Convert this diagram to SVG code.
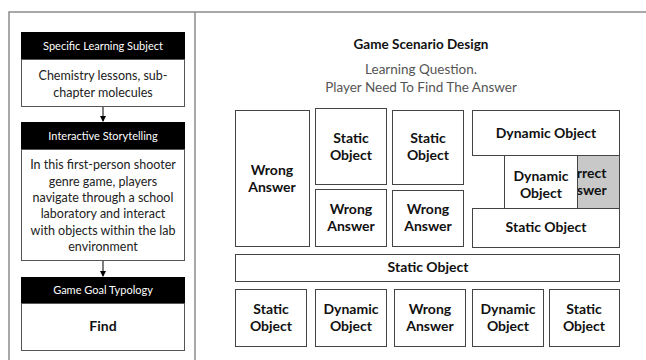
<svg xmlns="http://www.w3.org/2000/svg" width="646" height="360" viewBox="0 0 646 360">
  <defs>
    <marker id="arrow" markerWidth="6" markerHeight="6" refX="5" refY="3" orient="auto" markerUnits="userSpaceOnUse">
      <path d="M0,0 L6,3 L0,6 Z" fill="#000"/>
    </marker>
    <!-- only the exposed strip of the answer cell is visible -->
    <clipPath id="answer-visible">
      <rect x="578" y="155" width="42" height="54"/>
    </clipPath>
  </defs>
  <style>
    text { font-family: Lato, "Liberation Sans", sans-serif; }
    .frame { stroke: #8c8c8c; stroke-width: 1.5; fill: none; }
    .hdr { fill: #000; }
    .hdrtxt { fill: #fff; font-size: 11px; text-anchor: middle; }
    .body { fill: #fff; stroke: #555; stroke-width: 1; }
    .bodytxt { fill: #222; font-size: 12.5px; text-anchor: middle; }
    .box { fill: #fff; stroke: #444; stroke-width: 1; }
    .lbl { fill: #111; font-size: 14px; font-weight: bold; text-anchor: middle; }
    .ttl { fill: #111; font-size: 13.5px; font-weight: bold; text-anchor: middle; }
    .sub { fill: #555; font-size: 13.5px; text-anchor: middle; }
    .conn { stroke: #000; stroke-width: 1; fill: none; }
  </style>

  <rect width="646" height="360" fill="#fff"/>

  <!-- table frame -->
  <path class="frame" d="M9,360 V12 H646 M195,12 V360"/>

  <!-- left column: design steps -->
  <g id="learning-subject">
    <rect class="hdr" x="21" y="32" width="164" height="27"/>
    <text class="hdrtxt" x="103" y="50">Specific Learning Subject</text>
    <rect class="body" x="21.5" y="59.5" width="163" height="47"/>
    <text class="bodytxt" x="103" y="80">Chemistry lessons, sub-</text>
    <text class="bodytxt" x="103" y="97">chapter molecules</text>
  </g>

  <g id="storytelling">
    <rect class="hdr" x="21" y="122" width="164" height="27"/>
    <text class="hdrtxt" x="103" y="140">Interactive Storytelling</text>
    <rect class="body" x="21.5" y="149.5" width="163" height="111"/>
    <text class="bodytxt" x="103" y="169">In this first-person shooter</text>
    <text class="bodytxt" x="103" y="185.5">genre game, players</text>
    <text class="bodytxt" x="103" y="202">navigate through a school</text>
    <text class="bodytxt" x="103" y="218">laboratory and interact</text>
    <text class="bodytxt" x="103" y="234.5">with objects within the lab</text>
    <text class="bodytxt" x="103" y="251">environment</text>
  </g>

  <g id="goal-typology">
    <rect class="hdr" x="21" y="277" width="164" height="27"/>
    <text class="hdrtxt" x="103" y="294">Game Goal Typology</text>
    <rect class="body" x="21.5" y="303.5" width="163" height="47"/>
    <text class="lbl" x="103" y="331">Find</text>
  </g>

  <g id="connectors">
    <line class="conn" x1="103" y1="107" x2="103" y2="121" marker-end="url(#arrow)"/>
    <line class="conn" x1="103" y1="261" x2="103" y2="276" marker-end="url(#arrow)"/>
  </g>

  <!-- right column: scenario layout -->
  <g id="scenario-title">
    <text class="ttl" x="421" y="49">Game Scenario Design</text>
    <text class="sub" x="421" y="74">Learning Question.</text>
    <text class="sub" x="421" y="92">Player Need To Find The Answer</text>
  </g>

  <g id="wrong-answer-tall">
    <rect class="box" x="235.5" y="110.5" width="74" height="136"/>
    <text class="lbl" x="272" y="175">Wrong</text>
    <text class="lbl" x="272" y="192">Answer</text>
  </g>

  <g id="static-object-1">
    <rect class="box" x="315.5" y="108.5" width="71" height="76"/>
    <text class="lbl" x="351" y="143">Static</text>
    <text class="lbl" x="351" y="160">Object</text>
  </g>

  <g id="static-object-2">
    <rect class="box" x="392.5" y="110.5" width="71" height="74"/>
    <text class="lbl" x="428" y="143">Static</text>
    <text class="lbl" x="428" y="160">Object</text>
  </g>

  <g id="wrong-answer-1">
    <rect class="box" x="315.5" y="189.5" width="71" height="57"/>
    <text class="lbl" x="351" y="214">Wrong</text>
    <text class="lbl" x="351" y="231">Answer</text>
  </g>

  <g id="wrong-answer-2">
    <rect class="box" x="392.5" y="190.5" width="71" height="56"/>
    <text class="lbl" x="428" y="214">Wrong</text>
    <text class="lbl" x="428" y="231">Answer</text>
  </g>

  <g id="dynamic-object-top">
    <rect class="box" x="472.5" y="110.5" width="147" height="45"/>
    <text class="lbl" x="546" y="138">Dynamic Object</text>
  </g>

  <!-- answer cell partly hidden behind the dynamic object -->
  <g id="correct-answer">
    <rect x="577.5" y="155.5" width="42" height="53" fill="#c8c8c8" stroke="#444" stroke-width="1"/>
    <g clip-path="url(#answer-visible)">
      <text class="lbl" x="583" y="178">Correct</text>
      <text class="lbl" x="583" y="195">Answer</text>
    </g>
  </g>

  <g id="dynamic-object-mid">
    <rect class="box" x="504.5" y="155.5" width="73" height="53"/>
    <text class="lbl" x="541" y="181">Dynamic</text>
    <text class="lbl" x="541" y="198">Object</text>
  </g>

  <g id="static-object-right">
    <rect class="box" x="472.5" y="208.5" width="147" height="39"/>
    <text class="lbl" x="546" y="232">Static Object</text>
  </g>

  <g id="static-object-wide">
    <rect class="box" x="235.5" y="254.5" width="384" height="27"/>
    <text class="lbl" x="428" y="272">Static Object</text>
  </g>

  <g id="bottom-static-1">
    <rect class="box" x="235.5" y="289.5" width="71" height="57"/>
    <text class="lbl" x="271" y="314">Static</text>
    <text class="lbl" x="271" y="331">Object</text>
  </g>

  <g id="bottom-dynamic-1">
    <rect class="box" x="315.5" y="289.5" width="71" height="57"/>
    <text class="lbl" x="351" y="314">Dynamic</text>
    <text class="lbl" x="351" y="331">Object</text>
  </g>

  <g id="bottom-wrong">
    <rect class="box" x="394.5" y="289.5" width="71" height="57"/>
    <text class="lbl" x="430" y="314">Wrong</text>
    <text class="lbl" x="430" y="331">Answer</text>
  </g>

  <g id="bottom-dynamic-2">
    <rect class="box" x="472.5" y="289.5" width="71" height="57"/>
    <text class="lbl" x="508" y="314">Dynamic</text>
    <text class="lbl" x="508" y="331">Object</text>
  </g>

  <g id="bottom-static-2">
    <rect class="box" x="549.5" y="289.5" width="70" height="57"/>
    <text class="lbl" x="584" y="314">Static</text>
    <text class="lbl" x="584" y="331">Object</text>
  </g>
</svg>
